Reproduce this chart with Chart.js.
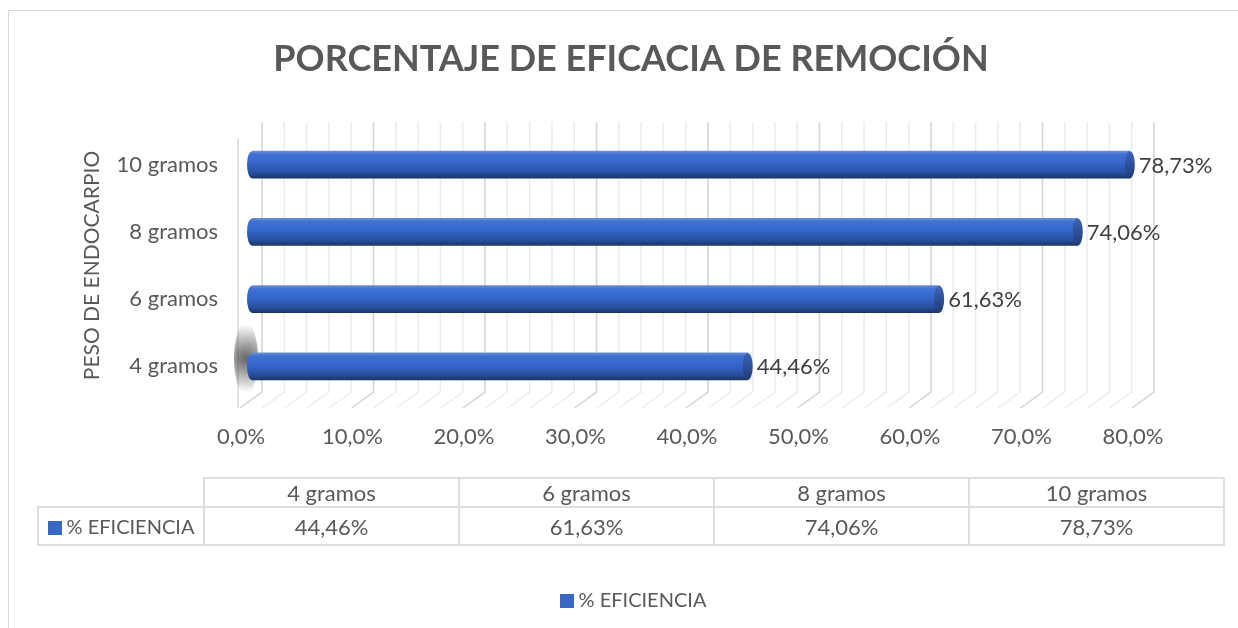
<!DOCTYPE html>
<html>
<head>
<meta charset="utf-8">
<script src="https://cdn.jsdelivr.net/npm/chart.js@4/dist/chart.umd.min.js"></script>
<style>
body{margin:0;background:#fff;font-family:Lato,sans-serif;color:#595959}
#wrap{position:relative;width:1238px;height:628px;overflow:hidden}
#frame{position:absolute;left:8px;top:10px;width:1300px;height:700px;border:1px solid #d9d9d9}
#chart{position:absolute;left:0;top:0}
#dt{position:absolute;left:37px;top:477px;border-collapse:collapse;font-size:22px;color:#595959}
#dt td{border:2px solid #dedede;text-align:center;padding:0;white-space:nowrap}
#dt td.blank{border:none}
#dt td.lab{font-size:20px}
#legend{position:absolute;top:587px;left:0;width:1266px;text-align:center;font-size:20px;color:#595959}
.sw{display:inline-block;width:14px;height:14px;background:#3a66c4;margin-right:5px;vertical-align:-1px}
</style>
</head>
<body>
<div id="wrap">
<div id="frame"></div>
<canvas id="chart" width="1238" height="628"></canvas>
<table id="dt"></table>
<div id="legend"></div>
</div>
<script>

// data
const categories=["4 gramos","6 gramos","8 gramos","10 gramos"]
const efficiency=[44.46,61.63,74.06,78.73]
const seriesName="% EFICIENCIA"
const chartTitle="PORCENTAJE DE EFICACIA DE REMOCIÓN"
const axisTitle="PESO DE ENDOCARPIO"
const xMax=80
const xStep=10
const minorStep=2

function pct(v,d){
return v.toFixed(d).replace(".",",")+"%"
}

// cylinder gradient for one bar
function barGradient(ctx,y,h){
let g=ctx.createLinearGradient(0,y-h/2,0,y+h/2)
g.addColorStop(0,"#6a8fd6")
g.addColorStop(0.12,"#3f70d2")
g.addColorStop(0.45,"#3566cb")
g.addColorStop(0.8,"#28509f")
g.addColorStop(1,"#1b3568")
return g
}

// title centred on the whole frame
const titlePlugin={
id:"bigTitle",
afterDraw(chart){
const c=chart.ctx
c.save()
c.fillStyle="#595959"
c.font="bold 36px Lato"
c.textAlign="center"
c.textBaseline="middle"
c.fillText(chartTitle,631,59)
c.restore()
}
}

// 3D-ish walls and gridlines
const gridPlugin={
id:"grid3d",
beforeDatasetsDraw(chart){
const c=chart.ctx,x=chart.scales.x,a=chart.chartArea
c.save()
c.lineWidth=1.5
for(let v=0;v<=xMax;v+=minorStep){
let px=x.getPixelForValue(v)
c.strokeStyle=(v%xStep===0)?"#d4d4d4":"#ececec"
c.beginPath()
c.moveTo(px+10,a.top-9)
c.lineTo(px+10,a.bottom-8)
c.lineTo(px-12,a.bottom+8)
c.stroke()
}
let p0=x.getPixelForValue(0)
c.strokeStyle="#d4d4d4"
c.beginPath()
c.moveTo(p0-14,a.top+8)
c.lineTo(p0-14,a.bottom+8)
c.stroke()
// shadow near the first bar
let b=chart.getDatasetMeta(0).data[0]
let sg=c.createRadialGradient(p0-6,b.y-8,2,p0-6,b.y-8,34)
sg.addColorStop(0,"rgba(60,60,60,0.75)")
sg.addColorStop(1,"rgba(60,60,60,0)")
c.fillStyle=sg
c.beginPath()
c.ellipse(p0-6,b.y-8,12,36,0,0,Math.PI*2)
c.fill()
c.restore()
}
}

// caps and value labels
const capPlugin={
id:"caps",
afterDatasetsDraw(chart){
const c=chart.ctx
chart.getDatasetMeta(0).data.forEach((bar,i)=>{
let p=bar.getProps(["x","y","base","height"],true)
let ry=p.height/2
c.save()
c.fillStyle=barGradient(c,p.y,p.height)
c.beginPath()
c.ellipse(p.base,p.y,5,ry,0,Math.PI/2,Math.PI*1.5)
c.fill()
let cg=c.createLinearGradient(0,p.y-ry,0,p.y+ry)
cg.addColorStop(0,"#3d64b4")
cg.addColorStop(1,"#1f3d7c")
c.fillStyle=cg
c.beginPath()
c.ellipse(p.x,p.y,5,ry,0,0,Math.PI*2)
c.fill()
c.fillStyle="#404040"
c.font="22px Lato"
c.textBaseline="middle"
c.fillText(pct(efficiency[i],2),p.x+9,p.y+1)
c.restore()
})
}
}

new Chart(document.getElementById("chart"),{
type:"bar",
data:{
labels:categories,
datasets:[{
label:seriesName,
data:efficiency,
barThickness:27,
backgroundColor:(ctx)=>{
let ch=ctx.chart
if(!ch.chartArea)return "#3566cb"
let y=ch.scales.y.getPixelForValue(ctx.dataIndex)
return barGradient(ch.ctx,y,27)
}
}]
},
options:{
indexAxis:"y",
responsive:false,
animation:false,
layout:{padding:{left:80,right:94,top:131,bottom:0}},
plugins:{
legend:{display:false},
tooltip:{enabled:false},
title:{display:false}
},
scales:{
x:{
min:0,
max:xMax,
grid:{display:false,drawTicks:false},
border:{display:false},
ticks:{
stepSize:xStep,
color:"#595959",
font:{family:"Lato",size:22},
padding:24,
labelOffset:-11,
callback:(v)=>pct(v,1)
},
afterFit(s){s.height=228}
},
y:{
reverse:true,
grid:{display:false,drawTicks:false},
border:{display:false},
ticks:{
color:"#595959",
font:{family:"Lato",size:22},
padding:34
},
title:{
display:true,
text:axisTitle,
color:"#595959",
font:{family:"Lato",size:21},
padding:{top:0,bottom:0}
},
afterFit(s){s.width=172}
}
}
},
plugins:[gridPlugin,capPlugin,titlePlugin]
})

// data table under the chart
let t=document.getElementById("dt")
let h="<tr><td class='blank' style='width:165px;height:28px'></td>"
categories.forEach(c=>{h+="<td style='width:253px'>"+c+"</td>"})
h+="</tr><tr><td class='lab' style='height:36px'><span class='sw'></span>"+seriesName+"</td>"
efficiency.forEach(v=>{h+="<td>"+pct(v,2)+"</td>"})
h+="</tr>"
t.innerHTML=h

document.getElementById("legend").innerHTML="<span class='sw'></span>"+seriesName

</script>
</body>
</html>
